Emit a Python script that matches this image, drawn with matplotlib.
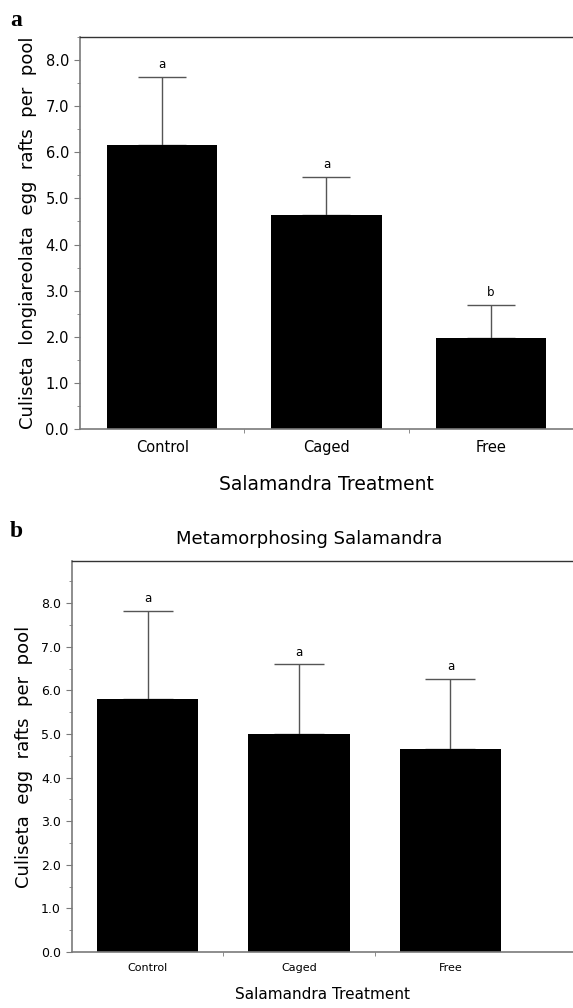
import numpy as np
import matplotlib
matplotlib.use("Agg")
import matplotlib.pyplot as plt
from matplotlib.ticker import MultipleLocator

# --- Data ---
treatments = ["Control", "Caged", "Free"]
rafts_a = [6.16, 4.65, 1.98]
err_a = [1.48, 0.82, 0.71]
letters_a = ["a", "a", "b"]

rafts_b = [5.81, 4.99, 4.65]
err_b = [2.02, 1.61, 1.62]
letters_b = ["a", "a", "a"]

yticks = [0.0, 1.0, 2.0, 3.0, 4.0, 5.0, 6.0, 7.0, 8.0]

spine_col = "#7a7a7a"
plt.rcParams["font.family"] = ["DejaVu Sans"]


def draw_panel(ax, vals, errs, letters, ylabel, ymax, xmax, tick_fs, lab_fs, capsize):
    x = np.arange(len(treatments))
    ax.bar(x, vals, width=0.67, color="black", zorder=2)
    ax.errorbar(x, vals, yerr=[np.zeros(len(errs)), errs], fmt="none",
                ecolor="#555555", elinewidth=1.0, capsize=capsize, capthick=1.0, zorder=1)
    for xi, v, e, l in zip(x, vals, errs, letters):
        ax.text(xi, v + e + 0.12, l, ha="center", va="bottom", fontsize=8.5)

    ax.set_xlim(-0.5, xmax)
    ax.set_ylim(0, ymax)
    ax.yaxis.set_minor_locator(MultipleLocator(0.5))
    ax.set_yticks(yticks)
    ax.set_yticklabels([f"{t:.1f}" for t in yticks], fontsize=tick_fs[0])
    ax.set_xticks(x)
    ax.set_xticklabels(treatments, fontsize=tick_fs[1])
    ax.set_xticks([0.5, 1.5], minor=True)
    ax.tick_params(axis="x", which="major", length=0, pad=8)
    ax.tick_params(axis="x", which="minor", length=3, color=spine_col)
    ax.tick_params(axis="y", which="major", length=4, color=spine_col, pad=4)
    ax.tick_params(axis="y", which="minor", length=2, color=spine_col)
    ax.spines["right"].set_visible(False)
    for s in ["left", "bottom"]:
        ax.spines[s].set_color(spine_col)
        ax.spines[s].set_linewidth(1.2)
    ax.spines["top"].set_color("#333333")
    ax.spines["top"].set_linewidth(1.0)
    ax.set_ylabel(ylabel, fontsize=lab_fs, labelpad=6)


fig = plt.figure(figsize=(5.73, 10.08), dpi=100)

ax1 = fig.add_axes([0.1396, 0.5744, 0.8604, 0.3889])
draw_panel(ax1, rafts_a, err_a, letters_a,
           "Culiseta  longiareolata  egg  rafts  per  pool", 8.5, 2.5, (10.5, 10.5), 13, 17)
ax1.set_xlabel("Salamandra Treatment", fontsize=13.5, labelpad=14)

ax2 = fig.add_axes([0.1257, 0.0556, 0.8743, 0.3879])
draw_panel(ax2, rafts_b, err_b, letters_b,
           "Culiseta  egg  rafts  per  pool", 8.97, 2.81, (9, 8), 13, 18)
ax2.set_xlabel("Salamandra Treatment", fontsize=11, labelpad=10)

fig.text(0.028, 0.990, "a", fontsize=17, fontweight="bold", family="Liberation Serif",
         va="top", ha="center")
fig.text(0.028, 0.483, "b", fontsize=17, fontweight="bold", family="Liberation Serif",
         va="top", ha="center")
fig.text(0.539, 0.465, "Metamorphosing Salamandra", fontsize=13, ha="center", va="center")

fig.savefig("out.png", dpi=100)
